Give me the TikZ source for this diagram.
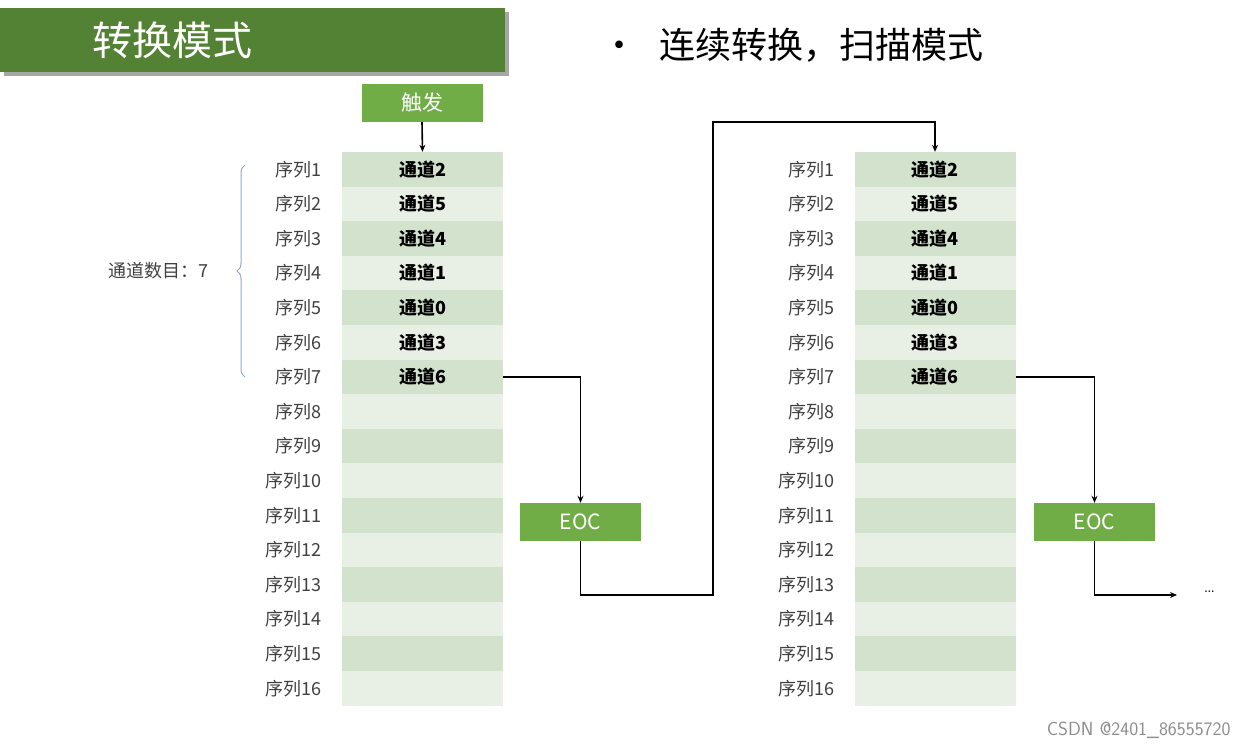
\documentclass[tikz,border=0pt]{standalone}
\usepackage{fontspec}
\newfontfamily\cjk{Noto Sans CJK SC}
\usetikzlibrary{positioning,decorations.pathreplacing,arrows.meta}
\definecolor{bannergreen}{HTML}{548235}
\definecolor{boxgreen}{HTML}{70AD47}
\definecolor{rowdark}{HTML}{D3E2CC}
\definecolor{rowlight}{HTML}{E8EFE4}
\definecolor{bracecol}{HTML}{8EA9C8}
\tikzset{
  cellbox/.style={minimum width=161pt, minimum height=34.6pt, inner sep=0pt, font=\cjk\fontsize{18}{18}\selectfont\bfseries},
  greenbox/.style={fill=boxgreen, text=white, minimum width=121pt, minimum height=38pt, inner sep=0pt, font=\cjk\fontsize{21}{21}\selectfont},
  seqlabel/.style={font=\cjk\fontsize{18}{18}\selectfont, text=black!75},
  link/.style={line width=1.6pt, -{Stealth[length=7pt,width=6pt]}},
}
\begin{document}
\begin{tikzpicture}[x=1pt,y=-1pt]
\useasboundingbox (0,0) rectangle (1236,744);

% banner
\fill[black!35] (4,12) rectangle (509,76);
\node[fill=bannergreen, text=white, minimum width=505pt, minimum height=64pt, inner sep=0pt,
  anchor=north west, font=\cjk\fontsize{40}{40}\selectfont] (title) at (0,8) {\hspace{-160pt}转换模式};
\node[anchor=west, font=\cjk\fontsize{36}{36}\selectfont] (mode) at (598,45) {•\hspace{22pt}连续转换，扫描模式};

% two tables
\foreach \t/\xc in {a/422.5, b/935} {
  \foreach \i in {1,...,16} {
    \pgfmathsetmacro{\yc}{152+(\i-0.5)*34.6}
    \ifodd\i \def\rowcol{rowdark}\else\def\rowcol{rowlight}\fi
    \node[cellbox, fill=\rowcol] (\t-\i) at (\xc,\yc) {};
    \node[seqlabel, anchor=east] (\t-lab-\i) at (\xc-97,\yc) {序列\i};
  }
  \foreach \i/\ch in {1/2, 2/5, 3/4, 4/1, 5/0, 6/3, 7/6}
    \node[font=\cjk\fontsize{18}{18}\selectfont\bfseries] at (\t-\i) {通道\ch};
}

% trigger
\node[greenbox] (trig) at (422,103) {触发};
\draw[link] (trig.south) -- (a-1.north);

% channel count brace
\draw[bracecol, line width=1pt, decorate, decoration={brace, amplitude=8pt}]
  (245,377) -- (245,165);
\node[seqlabel, anchor=east] (count) at (212,271) {通道数目：7};

% EOC boxes
\node[greenbox] (eoca) at (580.5,522) {EOC};
\node[greenbox] (eocb) at (1094.5,522) {EOC};
\coordinate (dots) at (1177,595);
\node[font=\fontsize{20}{20}\selectfont, anchor=west] (more) at (1200,592) {\dots};

\draw[link] (a-7.east) -| (eoca.north);
\draw[link] (eoca.south) |- (713,595) |- (935,122) -- (b-1.north);
\draw[link] (b-7.east) -| (eocb.north);
\draw[link] (eocb.south) |- (dots);

% watermark
\node[anchor=south east, text=black!45, font=\fontsize{19}{19}\selectfont\sffamily] (mark) at (1234,742) {CSDN @2401\_86555720};
\end{tikzpicture}
\end{document}
